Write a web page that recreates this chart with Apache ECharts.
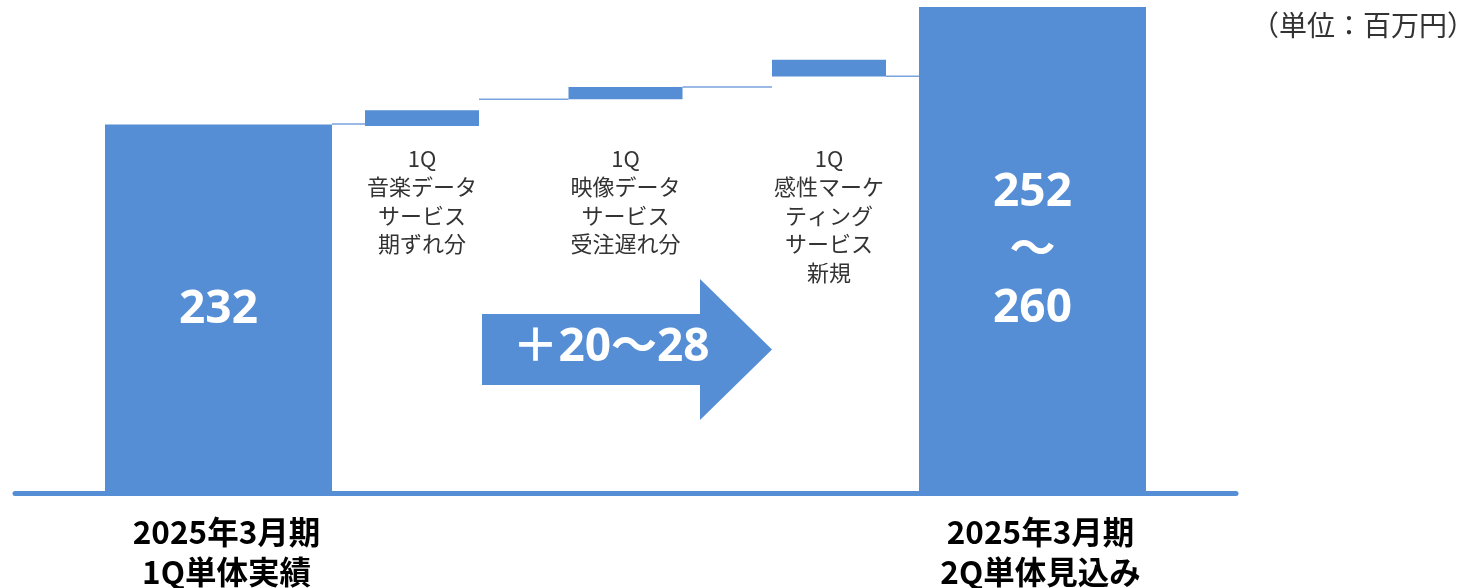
<!DOCTYPE html>
<html><head><meta charset="utf-8">
<script src="https://cdn.jsdelivr.net/npm/echarts@6/dist/echarts.min.js"></script>
<style>html,body{margin:0;padding:0;background:#fff}#c{width:1475px;height:588px}</style>
</head><body><div id="c"></div>
<script>
// ---- data ----
const categories = ['', '2025年3月期\n1Q単体実績', '1Q\n音楽データ\nサービス\n期ずれ分', '1Q\n映像データ\nサービス\n受注遅れ分', '1Q\n感性マーケ\nティング\nサービス\n新規', '2025年3月期\n2Q単体見込み', ''];
const totalIndex = [1, 5];
const totalValues = [232, 260];
const totalLabels = ['232', '252\n～\n260'];
const stepIndex = [2, 3, 4];
const stepLow = [231.6, 238.0, 243.4];
const stepHigh = [235.4, 240.9, 247.4];
const connectorFrom = [1, 2, 3, 4];
const connectorLevel = [232.1, 238.0, 240.9, 243.5];
const unitLabel = '（単位：百万円）';
const arrowLabel = '＋20～28';
const axisMin = 144, axisMax = 260;

// ---- styles / layout ----
const BLUE = '#558ed5';
const TOTAL_W = 227, STEP_W = 114;
const STEP_TEXT_LEVEL = 227.3;
const CJK = "'Noto Sans CJK JP', 'Noto Sans', sans-serif";
const NUM = "'Noto Sans', 'Noto Sans CJK JP', sans-serif";

const halfW = i => (totalIndex.includes(i) ? TOTAL_W : STEP_W) / 2;

const chart = echarts.init(document.getElementById('c'), null, {renderer: 'canvas'});

chart.setOption({
  animation: false,
  backgroundColor: '#fff',
  grid: {left: 15, right: 239, top: 7, bottom: 94.5, containLabel: false, outerBoundsMode: 'none'},
  xAxis: {
    type: 'category', data: categories, boundaryGap: false,
    axisLine: {show: true, lineStyle: {color: BLUE, width: 5}},
    axisTick: {show: false},
    splitLine: {show: false},
    axisLabel: {
      interval: 0, margin: 19, color: '#000', fontSize: 31.5, fontWeight: 'bold',
      fontFamily: CJK, lineHeight: 40, padding: [0, 0, 0, 16],
      formatter: (v, i) => totalIndex.includes(i) ? v : ''
    }
  },
  yAxis: {type: 'value', min: axisMin, max: axisMax, show: false, splitLine: {show: false}},
  series: [
    {
      type: 'custom', z: 1,
      data: connectorFrom.map((f, k) => [f, connectorLevel[k]]),
      renderItem: (params, api) => {
        const f = api.value(0), lv = api.value(1);
        const p0 = api.coord([f, lv]), p1 = api.coord([f + 1, lv]);
        return {type: 'line', shape: {x1: p0[0] + halfW(f), y1: p0[1], x2: p1[0] - halfW(f + 1), y2: p1[1]},
          style: {stroke: '#79a3dc', lineWidth: 1.5}};
      }
    },
    {
      type: 'custom', z: 3,
      data: totalIndex.map((i, k) => [i, totalValues[k], k]),
      renderItem: (params, api) => {
        const i = api.value(0), v = api.value(1), k = api.value(2);
        const top = api.coord([i, v]), bot = api.coord([i, axisMin]);
        return {type: 'group', children: [
          {type: 'rect', shape: {x: top[0] - TOTAL_W / 2, y: top[1], width: TOTAL_W, height: bot[1] - top[1]}, style: {fill: BLUE}},
          {type: 'text', style: {text: totalLabels[k], x: top[0], y: (top[1] + bot[1]) / 2 + 1, align: 'center', verticalAlign: 'middle',
            fontSize: 46, fontWeight: 'bold', fontFamily: NUM, fill: '#fff', lineHeight: 58}}
        ]};
      }
    },
    {
      type: 'custom', z: 3,
      data: stepIndex.map((i, k) => [i, stepLow[k], stepHigh[k]]),
      renderItem: (params, api) => {
        const i = api.value(0), lo = api.value(1), hi = api.value(2);
        const t = api.coord([i, hi]), b = api.coord([i, lo]);
        const lab = api.coord([i, STEP_TEXT_LEVEL]);
        return {type: 'group', children: [
          {type: 'rect', shape: {x: t[0] - STEP_W / 2, y: t[1], width: STEP_W, height: b[1] - t[1]}, style: {fill: BLUE}},
          {type: 'text', style: {text: categories[i], x: lab[0], y: lab[1], align: 'center', verticalAlign: 'top',
            fontSize: 22, fontFamily: CJK, fill: '#333', lineHeight: 28.5}}
        ]};
      }
    }
  ],
  graphic: [
    {type: 'polygon', z: 5, shape: {points: [[482, 314], [700, 314], [700, 279], [772, 349.5], [700, 420], [700, 385], [482, 385]]},
      style: {fill: BLUE}},
    {type: 'text', z: 6, style: {text: arrowLabel, x: 611, y: 348, align: 'center', verticalAlign: 'middle',
      fontSize: 46, fontWeight: 'bold', fontFamily: NUM, fill: '#fff'}},
    {type: 'text', z: 6, style: {text: unitLabel, x: 1251, y: 25, align: 'left', verticalAlign: 'middle',
      fontSize: 28, fontFamily: CJK, fill: '#333'}}
  ]
});
</script>
</body></html>
